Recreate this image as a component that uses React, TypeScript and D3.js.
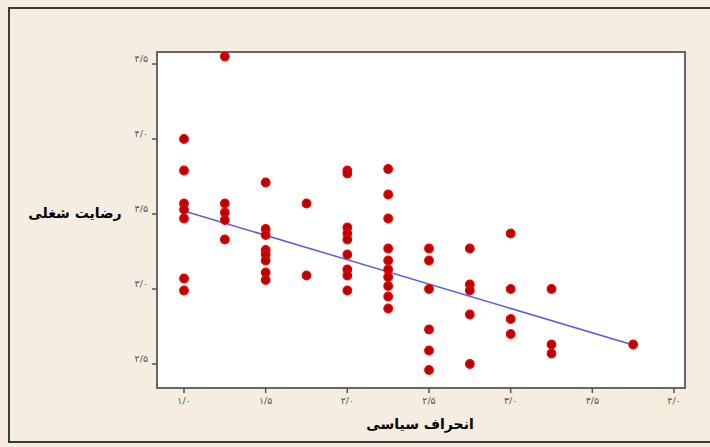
import React from "react";
import * as d3 from "d3";

// انحراف سیاسی (x) vs رضایت شغلی (y)
const xValues: number[] = [
  1.0, 1.0, 1.0, 1.0, 1.0, 1.0, 1.0,
  1.25, 1.25, 1.25, 1.25, 1.25,
  1.5, 1.5, 1.5, 1.5, 1.5, 1.5, 1.5, 1.5,
  1.75, 1.75,
  2.0, 2.0, 2.0, 2.0, 2.0, 2.0, 2.0, 2.0, 2.0,
  2.25, 2.25, 2.25, 2.25, 2.25, 2.25, 2.25, 2.25, 2.25, 2.25,
  2.5, 2.5, 2.5, 2.5, 2.5, 2.5,
  2.75, 2.75, 2.75, 2.75, 2.75,
  3.0, 3.0, 3.0, 3.0,
  3.25, 3.25, 3.25,
  3.75,
];
const yValues: number[] = [
  4.0, 3.79, 3.57, 3.53, 3.47, 3.07, 2.99,
  4.55, 3.57, 3.51, 3.46, 3.33,
  3.71, 3.4, 3.36, 3.26, 3.23, 3.19, 3.11, 3.06,
  3.57, 3.09,
  3.79, 3.77, 3.41, 3.37, 3.33, 3.23, 3.13, 3.09, 2.99,
  3.8, 3.63, 3.47, 3.27, 3.19, 3.13, 3.08, 3.02, 2.95, 2.87,
  3.27, 3.19, 3.0, 2.73, 2.59, 2.46,
  3.27, 3.03, 2.99, 2.83, 2.5,
  3.37, 3.0, 2.8, 2.7,
  3.0, 2.63, 2.57,
  2.63,
];
// fitted line endpoints
const fitX: number[] = [1.0, 3.75];
const fitY: number[] = [3.52, 2.627];

const xTicks: number[] = [1.0, 1.5, 2.0, 2.5, 3.0, 3.5, 4.0];
const xTickLabels: string[] = ["۱/۰", "۱/۵", "۲/۰", "۲/۵", "۳/۰", "۳/۵", "۴/۰"];
const yTicks: number[] = [4.5, 4.0, 3.5, 3.0, 2.5];
const yTickLabels: string[] = ["۴/۵", "۴/۰", "۳/۵", "۳/۰", "۲/۵"];

const xTitle = "انحراف سیاسی";
const yTitle = "رضایت شغلی";

export default function App() {
  const W = 710, H = 447;
  const plot = { left: 157, right: 685, top: 52, bottom: 388 };
  const x = d3.scaleLinear().domain([1.0, 4.0]).range([184, 674]);
  const y = d3.scaleLinear().domain([2.5, 4.5]).range([364, 64]);
  const pts = xValues.map((v, i) => [v, yValues[i]] as [number, number]);
  const line = d3.line<number>().x((d, i) => x(fitX[i])).y((d, i) => y(fitY[i]));
  const font = "'DejaVu Sans', sans-serif";

  return (
    <svg width={W} height={H} style={{ position: "absolute", left: 0, top: 0 }}>
      <rect x={0} y={0} width={W} height={H} fill="#f4ede0" />
      <rect x={9} y={8} width={720} height={434} fill="#f4ede0" stroke="#3a3a3a" strokeWidth={2} />
      <rect
        x={plot.left}
        y={plot.top}
        width={plot.right - plot.left}
        height={plot.bottom - plot.top}
        fill="#ffffff"
        stroke="#666"
        strokeWidth={2}
      />
      {xTicks.map((t, i) => (
        <g key={"xt" + i}>
          <line x1={x(t)} x2={x(t)} y1={plot.bottom} y2={plot.bottom + 5} stroke="#555" strokeWidth={1.5} />
          <text x={x(t)} y={plot.bottom + 16} fontSize={9.5} fill="#555" textAnchor="middle" fontFamily={font}>
            {xTickLabels[i]}
          </text>
        </g>
      ))}
      {yTicks.map((t, i) => (
        <g key={"yt" + i}>
          <line x1={plot.left - 5} x2={plot.left} y1={y(t)} y2={y(t)} stroke="#555" strokeWidth={1.5} />
          <text x={plot.left - 9} y={y(t) - 2} fontSize={9.5} fill="#555" textAnchor="end" fontFamily={font}>
            {yTickLabels[i]}
          </text>
        </g>
      ))}
      <path d={line(fitX) || ""} fill="none" stroke="#5f5ae0" strokeWidth={1.5} />
      {pts.map((p, i) => (
        <circle key={"p" + i} cx={x(p[0])} cy={y(p[1])} r={4.3} fill="#b80000" stroke="#f00000" strokeWidth={1.2} />
      ))}
      <text x={75} y={218} fontSize={14} fontWeight="bold" fill="#000" textAnchor="middle" fontFamily={font} direction="rtl">
        {yTitle}
      </text>
      <text x={420} y={429} fontSize={14} fontWeight="bold" fill="#000" textAnchor="middle" fontFamily={font} direction="rtl">
        {xTitle}
      </text>
    </svg>
  );
}
